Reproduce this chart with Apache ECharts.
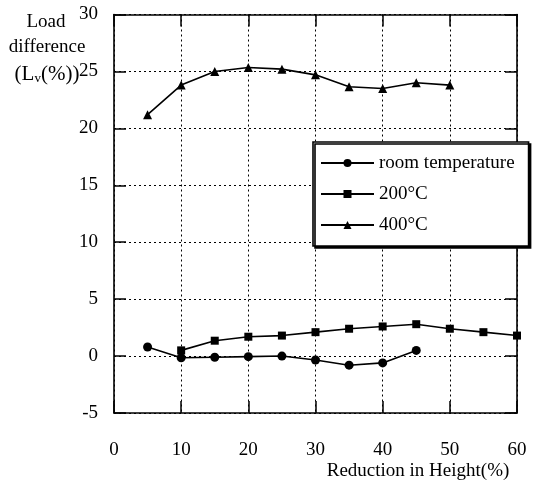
<!DOCTYPE html>
<html>
<head>
<meta charset="utf-8">
<script src="https://cdn.jsdelivr.net/npm/echarts@6/dist/echarts.min.js"></script>
<style>
  html, body { margin: 0; padding: 0; background: #fff; }
  #echarts { width: 534px; height: 491px; }
</style>
</head>
<body>
<div id="echarts"></div>
<script>
// reduction in height (%)
var xRoom = [5, 10, 15, 20, 25, 30, 35, 40, 45];
var x200 = [10, 15, 20, 25, 30, 35, 40, 45, 50, 55, 60];
var x400 = [5, 10, 15, 20, 25, 30, 35, 40, 45, 50];

// load difference Lv (%)
var roomTemp = [0.8, -0.15, -0.1, -0.05, 0, -0.35, -0.8, -0.6, 0.5];
var temp200 = [0.5, 1.35, 1.7, 1.8, 2.1, 2.4, 2.6, 2.8, 2.4, 2.1, 1.8];
var temp400 = [21.2, 23.8, 25.0, 25.35, 25.2, 24.7, 23.65, 23.5, 24.0, 23.8];

var seriesNames = ['room temperature', '200\u00B0C', '400\u00B0C'];
var xTicks = [0, 10, 20, 30, 40, 50, 60];
var yTicks = [-5, 0, 5, 10, 15, 20, 25, 30];

var FONT = '"Liberation Serif", "DejaVu Serif", serif';

function pairs(xs, ys){
    var out = [];
    for(var i = 0; i < xs.length; i++){
        out.push([xs[i], ys[i]]);
    }
    return out;
}

function gridLine(){
    return { show: true, lineStyle: { color: '#000', width: 1, type: [2, 3] } };
}
function border(){
    return { show: true, onZero: false, lineStyle: { color: '#000', width: 1.6 } };
}
function innerTick(){
    return { show: true, inside: true, length: 12, lineStyle: { color: '#000', width: 1.5 } };
}

function lineSeries(name, symbol, size, data){
    return {
        name: name,
        type: 'line',
        symbol: symbol,
        symbolSize: size,
        data: data,
        lineStyle: { color: '#000', width: 1.6 },
        itemStyle: { color: '#000' },
        animation: false
    };
}

var option = {
    backgroundColor: '#fff',
    animation: false,
    grid: { left: 114, right: 17, top: 14.5, bottom: 78 },
    legend: {
        orient: 'vertical',
        left: 313,
        top: 142,
        data: seriesNames,
        backgroundColor: '#fff',
        borderColor: '#000',
        borderWidth: 1.6,
        padding: [11, 14, 11, 7],
        itemWidth: 53,
        itemHeight: 10,
        itemGap: 11,
        shadowColor: '#000',
        shadowOffsetX: 2,
        shadowOffsetY: 2,
        shadowBlur: 0,
        textStyle: { fontFamily: FONT, fontSize: 19, color: '#000', lineHeight: 20 }
    },
    xAxis: [
        {
            type: 'value', min: xTicks[0], max: xTicks[xTicks.length - 1], interval: 10,
            axisLine: border(), axisTick: innerTick(), splitLine: gridLine(),
            axisLabel: { margin: 28, fontFamily: FONT, fontSize: 19, color: '#000' }
        },
        {
            type: 'value', position: 'top', min: 0, max: 60, interval: 10,
            axisLine: border(), axisTick: innerTick(), splitLine: { show: false },
            axisLabel: { show: false }
        }
    ],
    yAxis: [
        {
            type: 'value', min: yTicks[0], max: yTicks[yTicks.length - 1], interval: 5,
            axisLine: border(), axisTick: innerTick(), splitLine: gridLine(),
            axisLabel: { margin: 16, fontFamily: FONT, fontSize: 19, color: '#000' }
        },
        {
            type: 'value', position: 'right', min: -5, max: 30, interval: 5,
            axisLine: border(), axisTick: innerTick(), splitLine: { show: false },
            axisLabel: { show: false }
        }
    ],
    graphic: [
        {
            type: 'text',
            style: { x: 46, y: 22, text: 'Load', fill: '#000', font: '19px ' + FONT, textAlign: 'center', textVerticalAlign: 'middle' }
        },
        {
            type: 'text',
            style: { x: 47, y: 47, text: 'difference', fill: '#000', font: '19px ' + FONT, textAlign: 'center', textVerticalAlign: 'middle' }
        },
        {
            type: 'text',
            style: {
                x: 47, y: 74, text: '{a|(L}{s|v}{a|(%))}', textAlign: 'center', textVerticalAlign: 'middle',
                rich: {
                    a: { fontFamily: FONT, fontSize: 21, fill: '#000', color: '#000' },
                    s: { fontFamily: FONT, fontSize: 13, fill: '#000', color: '#000', verticalAlign: 'bottom', padding: [9, 0, 0, 0] }
                }
            }
        },
        {
            type: 'text',
            style: { x: 418, y: 471, text: 'Reduction in Height(%)', fill: '#000', font: '19px ' + FONT, textAlign: 'center', textVerticalAlign: 'middle' }
        }
    ],
    series: [
        lineSeries(seriesNames[0], 'circle', 9, pairs(xRoom, roomTemp)),
        lineSeries(seriesNames[1], 'rect', 8, pairs(x200, temp200)),
        lineSeries(seriesNames[2], 'triangle', 9, pairs(x400, temp400))
    ]
};

var myChart = echarts.init(document.getElementById('echarts'));
myChart.setOption(option);
</script>
</body>
</html>
